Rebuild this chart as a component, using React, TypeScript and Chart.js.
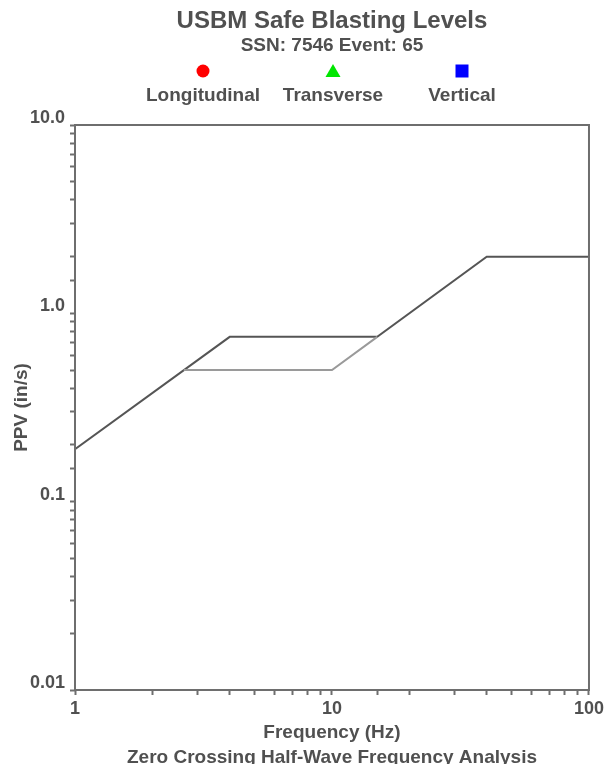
import React, { useEffect, useRef } from "react";
import { Chart, registerables } from "chart.js";

Chart.register(...registerables);

// ---- data ----
const drywallFrequency = [1, 4, 15, 40, 100];
const drywallPpv = [0.19, 0.75, 0.75, 2.0, 2.0];
const plasterFrequency = [2.65, 10, 15];
const plasterPpv = [0.5, 0.5, 0.75];

const xTickValues = [1, 10, 100];
const xTickLabels = ["1", "10", "100"];
const yTickValues = [0.01, 0.1, 1, 10];
const yTickLabels = ["0.01", "0.1", "1.0", "10.0"];

const legendLabels = ["Longitudinal", "Transverse", "Vertical"];
const legendColors = ["#ff0000", "#00e600", "#0000ff"];
const legendShapes = ["circle", "triangle", "rect"];

const titleText = "USBM Safe Blasting Levels";
const subtitleText = "SSN: 7546 Event: 65";
const xTitleLines = ["Frequency (Hz)", "Zero Crossing Half-Wave Frequency Analysis"];
const yTitleText = "PPV (in/s)";

const FONT = "'Liberation Sans', Arial, Helvetica, sans-serif";
const TEXT = "#505050";

function labelFor(v: number, values: number[], labels: string[]) {
  for (let i = 0; i < values.length; i++) {
    if (Math.abs(Math.log10(v) - Math.log10(values[i])) < 1e-6) return labels[i];
  }
  return "";
}

const decorPlugin = {
  id: "decor",
  afterDraw(chart: any) {
    const { ctx, chartArea } = chart;
    const cx = (chartArea.left + chartArea.right) / 2;
    ctx.save();
    // frame
    ctx.strokeStyle = "#6e6e6e";
    ctx.lineWidth = 2;
    ctx.strokeRect(chartArea.left, chartArea.top, chartArea.right - chartArea.left, chartArea.bottom - chartArea.top);

    ctx.fillStyle = TEXT;
    ctx.textAlign = "center";
    ctx.textBaseline = "middle";
    ctx.font = `bold 24px ${FONT}`;
    ctx.fillText(titleText, cx, 21);
    ctx.font = `bold 19px ${FONT}`;
    ctx.fillText(subtitleText, cx, 46);

    // legend
    const legendX = [203, 333, 462];
    ctx.font = `bold 19px ${FONT}`;
    legendLabels.forEach((lbl, i) => {
      const x = legendX[i];
      const y = 71;
      ctx.fillStyle = legendColors[i];
      ctx.beginPath();
      if (legendShapes[i] === "circle") {
        ctx.arc(x, y, 6.5, 0, Math.PI * 2);
      } else if (legendShapes[i] === "triangle") {
        ctx.moveTo(x, y - 7);
        ctx.lineTo(x + 7.5, y + 6);
        ctx.lineTo(x - 7.5, y + 6);
        ctx.closePath();
      } else {
        ctx.rect(x - 6.5, y - 6.5, 13, 13);
      }
      ctx.fill();
      ctx.fillStyle = TEXT;
      ctx.fillText(lbl, x, 96);
    });

    // axis titles
    ctx.font = `bold 19px ${FONT}`;
    ctx.fillText(xTitleLines[0], cx, 733);
    ctx.fillText(xTitleLines[1], cx, 758);
    ctx.translate(22, (chartArea.top + chartArea.bottom) / 2);
    ctx.rotate(-Math.PI / 2);
    ctx.fillText(yTitleText, 0, 0);
    ctx.restore();
  },
};

export default function App() {
  const ref = useRef<HTMLCanvasElement | null>(null);

  useEffect(() => {
    if (!ref.current) return;
    const chart = new Chart(ref.current, {
      type: "scatter",
      data: {
        datasets: [
          {
            label: "Plaster",
            data: plasterFrequency.map((f, i) => ({ x: f, y: plasterPpv[i] })),
            showLine: true,
            borderColor: "#9a9a9a",
            borderWidth: 2,
            pointRadius: 0,
            fill: false,
          },
          {
            label: "Drywall",
            data: drywallFrequency.map((f, i) => ({ x: f, y: drywallPpv[i] })),
            showLine: true,
            borderColor: "#555555",
            borderWidth: 2,
            pointRadius: 0,
            fill: false,
          },
        ],
      },
      options: {
        responsive: false,
        animation: false,
        layout: { padding: { top: 125, right: 16, left: 0, bottom: 0 } },
        plugins: {
          legend: { display: false },
          title: { display: false },
          tooltip: { enabled: false },
        },
        scales: {
          x: {
            type: "logarithmic",
            min: 1,
            max: 100,
            position: "bottom",
            border: { display: false },
            grid: { drawOnChartArea: false, drawTicks: true, tickLength: 5, tickColor: "#6e6e6e", tickWidth: 2 },
            ticks: {
              autoSkip: false,
              maxRotation: 0,
              padding: 3,
              color: TEXT,
              font: { family: FONT, size: 18, weight: "bold" },
              callback: (v: any) => labelFor(Number(v), xTickValues, xTickLabels),
            },
            afterFit: (s: any) => {
              s.height = 74;
            },
          },
          y: {
            type: "logarithmic",
            min: 0.01,
            max: 10,
            border: { display: false },
            grid: { drawOnChartArea: false, drawTicks: true, tickLength: 5, tickColor: "#6e6e6e", tickWidth: 2 },
            ticks: {
              autoSkip: false,
              padding: 5,
              labelOffset: -7,
              color: TEXT,
              font: { family: FONT, size: 18, weight: "bold" },
              callback: (v: any) => labelFor(Number(v), yTickValues, yTickLabels),
            },
            afterFit: (s: any) => {
              s.width = 75;
            },
          },
        },
      } as any,
      plugins: [decorPlugin],
    });
    return () => chart.destroy();
  }, []);

  return (
    <div style={{ position: "fixed", left: 0, top: 0, width: 607, height: 764, background: "#fff" }}>
      <canvas ref={ref} width={607} height={764} style={{ display: "block" }} />
    </div>
  );
}
